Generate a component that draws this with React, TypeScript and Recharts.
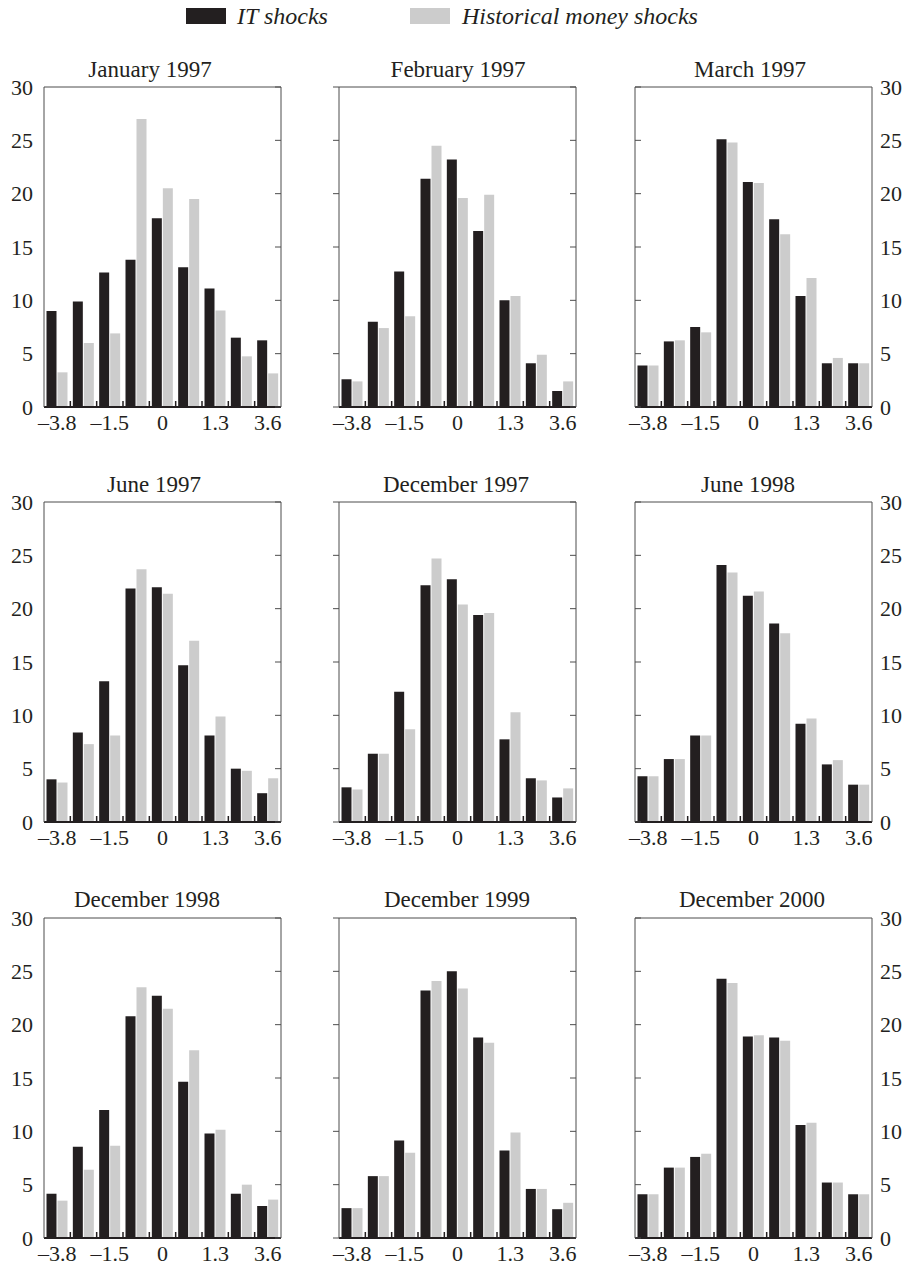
import { Bar, BarChart, XAxis, YAxis } from "recharts";

const FONT = '"Liberation Serif", "Times New Roman", serif';
const INK = "#231f20";
const GREY = "#cccccc";
const FRAME = "#4d4d4d";

// bins of the shock distribution, only every other one is labelled
const binLabels = ["–3.8", "", "–1.5", "", "0", "", "1.3", "", "3.6"];
const yTicks = [0, 5, 10, 15, 20, 25, 30];

const itJan1997 = [9.0, 9.9, 12.6, 13.8, 17.7, 13.1, 11.1, 6.5, 6.25];
const histJan1997 = [3.25, 6.0, 6.9, 27.0, 20.5, 19.5, 9.05, 4.75, 3.15];
const itFeb1997 = [2.6, 8.0, 12.7, 21.4, 23.2, 16.5, 10.0, 4.1, 1.5];
const histFeb1997 = [2.4, 7.4, 8.5, 24.5, 19.6, 19.9, 10.4, 4.9, 2.4];
const itMar1997 = [3.9, 6.15, 7.5, 25.1, 21.1, 17.6, 10.4, 4.1, 4.1];
const histMar1997 = [3.9, 6.25, 7.0, 24.8, 21.0, 16.2, 12.1, 4.6, 4.1];
const itJun1997 = [4.0, 8.4, 13.2, 21.9, 22.0, 14.7, 8.1, 5.0, 2.7];
const histJun1997 = [3.7, 7.3, 8.1, 23.7, 21.4, 17.0, 9.9, 4.8, 4.1];
const itDec1997 = [3.25, 6.4, 12.2, 22.2, 22.75, 19.4, 7.75, 4.1, 2.3];
const histDec1997 = [3.05, 6.4, 8.7, 24.7, 20.4, 19.6, 10.3, 3.9, 3.15];
const itJun1998 = [4.3, 5.9, 8.1, 24.1, 21.2, 18.6, 9.2, 5.4, 3.5];
const histJun1998 = [4.3, 5.9, 8.1, 23.4, 21.6, 17.7, 9.7, 5.8, 3.5];
const itDec1998 = [4.15, 8.55, 12.0, 20.8, 22.7, 14.65, 9.8, 4.15, 3.0];
const histDec1998 = [3.5, 6.4, 8.65, 23.5, 21.5, 17.6, 10.15, 5.0, 3.6];
const itDec1999 = [2.8, 5.8, 9.15, 23.2, 25.0, 18.8, 8.2, 4.6, 2.7];
const histDec1999 = [2.8, 5.8, 8.0, 24.1, 23.4, 18.3, 9.9, 4.6, 3.3];
const itDec2000 = [4.1, 6.6, 7.6, 24.3, 18.9, 18.8, 10.6, 5.2, 4.1];
const histDec2000 = [4.1, 6.6, 7.9, 23.9, 19.0, 18.5, 10.8, 5.2, 4.1];

const panels = [
  { title: "January 1997", it: itJan1997, hist: histJan1997 },
  { title: "February 1997", it: itFeb1997, hist: histFeb1997 },
  { title: "March 1997", it: itMar1997, hist: histMar1997 },
  { title: "June 1997", it: itJun1997, hist: histJun1997 },
  { title: "December 1997", it: itDec1997, hist: histDec1997 },
  { title: "June 1998", it: itJun1998, hist: histJun1998 },
  { title: "December 1998", it: itDec1998, hist: histDec1998 },
  { title: "December 1999", it: itDec1999, hist: histDec1999 },
  { title: "December 2000", it: itDec2000, hist: histDec2000 },
];

// layout of the 3x3 grid
const PLOT_W = 237;
const PLOT_H = 320;
const TOP_PAD = 14;
const TOP_AXIS = 10;
const BOTTOM_AXIS = 34;
const colLeft = [44, 339, 635];
const rowTop = [87, 502, 918];
const titleX = [
  [150, 458, 750],
  [154, 456, 748],
  [147, 457, 752],
];
const titleY = [71, 486, 901];

const tickFont = { fontSize: 22, fontFamily: FONT, fill: INK };

function BinTick(props: any) {
  const { x, y, index } = props;
  const half = PLOT_W / binLabels.length / 2;
  return (
    <g>
      {index < binLabels.length - 1 ? (
        <line x1={x + half} x2={x + half} y1={y} y2={y - 6} stroke={INK} strokeWidth={1.5} />
      ) : null}
      <text
        x={x}
        y={y + 15}
        textAnchor="middle"
        dominantBaseline="central"
        fontSize={22}
        fontFamily={FONT}
        fill={INK}
      >
        {binLabels[index]}
      </text>
    </g>
  );
}

// short tick mark only, dir = -1 draws to the left, +1 to the right
const markTick = (dir: number) => (props: any) => (
  <line x1={props.x} x2={props.x + dir * 6} y1={props.y} y2={props.y} stroke={FRAME} />
);

function Panel({ idx }: { idx: number }) {
  const p = panels[idx];
  const col = idx % 3;
  const row = Math.floor(idx / 3);
  const leftW = col === 0 ? 44 : 10;
  const rightW = col === 2 ? 39 : 10;
  const data = binLabels.map((_, i) => ({ bin: i, it: p.it[i], hist: p.hist[i] }));

  return (
    <>
      <div
        style={{
          position: "absolute",
          left: titleX[row][col] - 150,
          top: titleY[row] - 13,
          width: 300,
          textAlign: "center",
          fontFamily: FONT,
          fontSize: 23,
          lineHeight: "24px",
          color: INK,
        }}
      >
        {p.title}
      </div>
      <div
        style={{
          position: "absolute",
          left: colLeft[col] - leftW,
          top: rowTop[row] - TOP_AXIS - TOP_PAD,
        }}
      >
        <BarChart
          width={leftW + PLOT_W + rightW}
          height={TOP_PAD + TOP_AXIS + PLOT_H + BOTTOM_AXIS}
          data={data}
          margin={{ top: TOP_PAD, right: 0, bottom: 0, left: 0 }}
          barCategoryGap="9.5%"
          barGap={1}
        >
          <XAxis
            dataKey="bin"
            interval={0}
            height={BOTTOM_AXIS}
            tickLine={false}
            tickSize={0}
            tickMargin={0}
            axisLine={{ stroke: INK, strokeWidth: 2 }}
            tick={BinTick}
          />
          <XAxis
            xAxisId="top"
            orientation="top"
            dataKey="bin"
            height={TOP_AXIS}
            tick={false}
            tickLine={false}
            axisLine={{ stroke: FRAME }}
          />
          <YAxis
            domain={[0, 30]}
            ticks={yTicks}
            width={leftW}
            interval={0}
            allowDataOverflow
            axisLine={{ stroke: FRAME }}
            tickLine={false}
            tickSize={0}
            tickMargin={col === 0 ? 11 : 0}
            tick={col === 0 ? tickFont : markTick(col === 1 ? -1 : 1)}
          />
          <YAxis
            yAxisId="right"
            orientation="right"
            domain={[0, 30]}
            ticks={yTicks}
            width={rightW}
            interval={0}
            allowDataOverflow
            axisLine={{ stroke: FRAME }}
            tickLine={false}
            tickSize={0}
            tickMargin={col === 2 ? 8 : 0}
            tick={col === 2 ? { ...tickFont, textAnchor: "start" } : markTick(-1)}
          />
          <Bar dataKey="it" name="IT shocks" fill={INK} isAnimationActive={false} />
          <Bar dataKey="hist" name="Historical money shocks" fill={GREY} isAnimationActive={false} />
        </BarChart>
      </div>
    </>
  );
}

export default function App() {
  const legendText = {
    position: "absolute" as const,
    top: 3,
    fontFamily: FONT,
    fontStyle: "italic",
    fontSize: 24,
    lineHeight: "26px",
    color: INK,
  };
  return (
    <div
      style={{
        position: "absolute",
        left: 0,
        top: 0,
        width: 911,
        height: 1270,
        background: "#fff",
      }}
    >
      <div style={{ position: "absolute", left: 186, top: 8, width: 40, height: 16, background: INK }} />
      <div style={{ ...legendText, left: 237 }}>IT shocks</div>
      <div style={{ position: "absolute", left: 410, top: 8, width: 40, height: 16, background: GREY }} />
      <div style={{ ...legendText, left: 462 }}>Historical money shocks</div>
      {panels.map((_, i) => (
        <Panel key={i} idx={i} />
      ))}
    </div>
  );
}
